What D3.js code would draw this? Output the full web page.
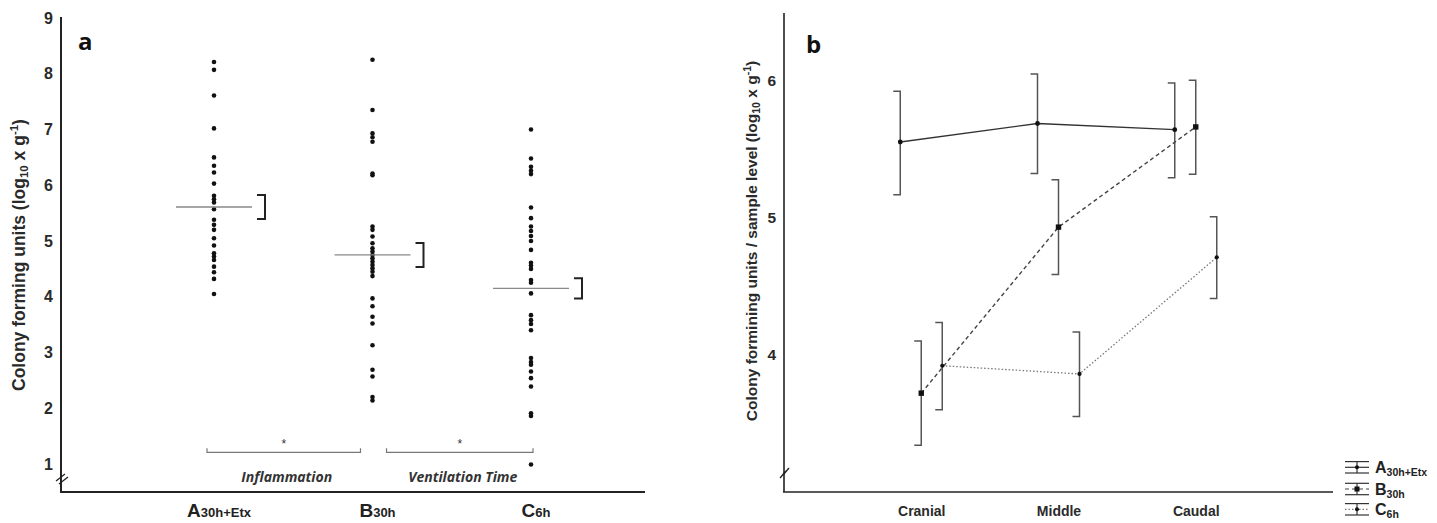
<!DOCTYPE html>
<html>
<head>
<meta charset="utf-8">
<script src="https://cdn.jsdelivr.net/npm/d3@7"></script>
<style>
  body { margin: 0; background: #fff; }
  svg { display: block; font-family: "Liberation Sans", Arial, sans-serif; }
</style>
</head>
<body>
<div class="svg"></div>
<script>
const w = 1437;
const h = 523;

// panel a: individual values per group
const groupsA = ["A", "B", "C"];
const groupMain = ["A", "B", "C"];
const groupSub = ["30h+Etx", "30h", "6h"];
const valuesA = [8.21, 8.07, 7.61, 7.02, 6.50, 6.35, 6.23, 6.03, 5.81, 5.75, 5.69, 5.57, 5.38, 5.29, 5.20, 5.05, 4.92, 4.78, 4.72, 4.66, 4.54, 4.44, 4.32, 4.05];
const valuesB = [8.25, 7.35, 6.93, 6.86, 6.78, 6.21, 6.18, 5.26, 5.20, 5.08, 4.96, 4.87, 4.81, 4.75, 4.69, 4.63, 4.57, 4.51, 4.45, 4.37, 3.97, 3.83, 3.64, 3.52, 3.13, 2.69, 2.57, 2.20, 2.14];
const valuesC = [7.00, 6.48, 6.33, 6.26, 6.20, 5.60, 5.41, 5.26, 5.18, 5.09, 5.00, 4.84, 4.61, 4.56, 4.50, 4.30, 4.25, 4.06, 3.67, 3.58, 3.51, 3.40, 2.90, 2.83, 2.78, 2.66, 2.54, 2.39, 1.91, 1.86, 0.99];
const meansA = [5.61, 4.75, 4.15];
const semA = [0.215, 0.215, 0.18];
const ticksA = [1, 2, 3, 4, 5, 6, 7, 8, 9];
const sigLevel = 1.21;
const sigLabels = ["Inflammation", "Ventilation Time"];

// panel b: mean and error per sample level
const levels = ["Cranial", "Middle", "Caudal"];
const seriesNames = ["A", "B", "C"];
const seriesSub = ["30h+Etx", "30h", "6h"];
const meanSA = [5.55, 5.685, 5.64];
const lowSA = [5.165, 5.32, 5.29];
const highSA = [5.92, 6.045, 5.98];
const meanSB = [3.72, 4.93, 5.66];
const lowSB = [3.34, 4.585, 5.315];
const highSB = [4.10, 5.275, 6.00];
const meanSC = [3.92, 3.86, 4.71];
const lowSC = [3.60, 3.55, 4.41];
const highSC = [4.235, 4.165, 5.005];
const ticksB = [4, 5, 6];

let svg = d3.select(".svg").append("svg").attr("width", w).attr("height", h);

// ---------- panel a ----------
const ax0 = 61, axBottom = 492;
const yA = d3.scaleLinear().domain([1, 9]).range([464, 18]);
const xA = d3.scalePoint().domain(groupsA).range([214, 531]);

let pa = svg.append("g");
pa.append("line").attr("x1", ax0).attr("x2", ax0).attr("y1", 17).attr("y2", axBottom)
  .attr("stroke", "#222").attr("stroke-width", 2);
pa.append("line").attr("x1", ax0 - 1).attr("x2", 645).attr("y1", axBottom).attr("y2", axBottom)
  .attr("stroke", "#222").attr("stroke-width", 2.2);

let yAxisA = d3.axisLeft(yA).tickValues(ticksA).tickSize(0).tickPadding(8);
let gya = pa.append("g").attr("transform", "translate(" + ax0 + ",0)").call(yAxisA);
gya.select(".domain").remove();
gya.selectAll("text").attr("font-size", 16).attr("font-weight", "bold").attr("fill", "#2a2a2a")
  .attr("font-family", "Liberation Sans, Arial, sans-serif");

// axis break
[[-4, 0], [-1, 3]].forEach(o => {
  pa.append("line").attr("x1", ax0 - 5 + o[1]).attr("y1", 481 + o[0] + 4).attr("x2", ax0 + 4 + o[1]).attr("y2", 474 + o[0] + 4)
    .attr("stroke", "#222").attr("stroke-width", 1.3);
});

pa.append("text").text("a").attr("x", 78).attr("y", 50).attr("font-size", 24).attr("font-weight", "bold")
  .attr("font-family", "Open Sans, sans-serif").attr("fill", "#111");

let ylA = pa.append("text").attr("transform", "translate(25,255) rotate(-90)").attr("text-anchor", "middle")
  .attr("font-size", 17.5).attr("font-weight", "bold").attr("fill", "#2a2a2a");
ylA.append("tspan").text("Colony forming units (log");
ylA.append("tspan").text("10").attr("font-size", 11.5).attr("dy", 3);
ylA.append("tspan").text(" x g").attr("dy", -3);
ylA.append("tspan").text("-1").attr("font-size", 11.5).attr("dy", -7);
ylA.append("tspan").text(")").attr("dy", 7);

const allA = [valuesA, valuesB, valuesC];
allA.forEach((vals, i) => {
  pa.selectAll(".dot" + i).data(vals).enter().append("circle")
    .attr("cx", xA(groupsA[i])).attr("cy", d => yA(d)).attr("r", 2.3).attr("fill", "#111");
});

groupsA.forEach((g, i) => {
  const cx = xA(g);
  pa.append("line").attr("x1", cx - 38).attr("x2", cx + 38).attr("y1", yA(meansA[i])).attr("y2", yA(meansA[i]))
    .attr("stroke", "#888").attr("stroke-width", 1.3);
  const bx = cx + 51;
  pa.append("path")
    .attr("d", "M" + (bx - 8) + "," + yA(meansA[i] + semA[i]) + "H" + bx + "V" + yA(meansA[i] - semA[i]) + "H" + (bx - 8))
    .attr("fill", "none").attr("stroke", "#222").attr("stroke-width", 2);
  let t = pa.append("text").attr("x", cx + 5).attr("y", 517).attr("text-anchor", "middle")
    .attr("font-weight", "bold").attr("fill", "#222");
  t.append("tspan").text(groupMain[i]).attr("font-size", 19);
  t.append("tspan").text(groupSub[i]).attr("font-size", 13);
});

// significance brackets
const sigSpans = [[xA("A") - 7, xA("B") - 12], [xA("B") + 14, xA("C") + 2]];
sigSpans.forEach((s, i) => {
  const sy = yA(sigLevel);
  pa.append("path").attr("d", "M" + s[0] + "," + (sy - 4) + "V" + sy + "H" + s[1] + "V" + (sy - 4))
    .attr("fill", "none").attr("stroke", "#777").attr("stroke-width", 1.2);
  pa.append("text").text("*").attr("x", (s[0] + s[1]) / 2).attr("y", sy - 4).attr("text-anchor", "middle")
    .attr("font-size", 12).attr("fill", "#333");
  pa.append("text").text(sigLabels[i]).attr("x", (s[0] + s[1]) / 2 + 3).attr("y", 482).attr("text-anchor", "middle")
    .attr("font-size", 14).attr("font-weight", "bold").attr("font-style", "italic")
    .attr("font-family", "Open Sans, sans-serif").attr("fill", "#333");
});

// ---------- panel b ----------
const bx0 = 784, bRight = 1333;
const yB = d3.scaleLinear().domain([3, 6.49]).range([492, 13]);
const xB = d3.scalePoint().domain(levels).range([bx0, bRight]).padding(1);
const offs = [-21, 0, 21];

let pb = svg.append("g");
pb.append("line").attr("x1", bx0).attr("x2", bx0).attr("y1", 13).attr("y2", 492)
  .attr("stroke", "#222").attr("stroke-width", 1.6);
pb.append("line").attr("x1", bx0 - 1).attr("x2", bRight).attr("y1", 492).attr("y2", 492)
  .attr("stroke", "#222").attr("stroke-width", 1.6);
[0, 3].forEach(o => {
  pb.append("line").attr("x1", bx0 - 4 + o).attr("y1", 478 - o + 0).attr("x2", bx0 + 2 + o).attr("y2", 471 - o + 0)
    .attr("stroke", "#222").attr("stroke-width", 1.3);
});

let yAxisB = d3.axisLeft(yB).tickValues(ticksB).tickSize(0).tickPadding(8).tickFormat(d3.format("d"));
let gyb = pb.append("g").attr("transform", "translate(" + bx0 + ",0)").call(yAxisB);
gyb.select(".domain").remove();
gyb.selectAll("text").attr("font-size", 15.5).attr("font-weight", "bold").attr("fill", "#2a2a2a")
  .attr("font-family", "Liberation Sans, Arial, sans-serif");

let xAxisB = d3.axisBottom(xB).tickSize(0).tickPadding(14);
let gxb = pb.append("g").attr("transform", "translate(0,492)").call(xAxisB);
gxb.select(".domain").remove();
gxb.selectAll("text").attr("font-size", 14).attr("font-weight", "bold").attr("fill", "#2a2a2a")
  .attr("font-family", "Liberation Sans, Arial, sans-serif");

pb.append("text").text("b").attr("x", 806).attr("y", 53).attr("font-size", 24).attr("font-weight", "bold")
  .attr("font-family", "Open Sans, sans-serif").attr("fill", "#111");

let ylB = pb.append("text").attr("transform", "translate(757,241) rotate(-90)").attr("text-anchor", "middle")
  .attr("font-size", 15.5).attr("font-weight", "bold").attr("fill", "#2a2a2a");
ylB.append("tspan").text("Colony formining units / sample level (log");
ylB.append("tspan").text("10").attr("font-size", 10.5).attr("dy", 3);
ylB.append("tspan").text(" x g").attr("dy", -3);
ylB.append("tspan").text("-1").attr("font-size", 10.5).attr("dy", -6);
ylB.append("tspan").text(")").attr("dy", 6);

const seriesB = [
  { mean: meanSA, lo: lowSA, hi: highSA, dash: null, color: "#333", width: 1.3 },
  { mean: meanSB, lo: lowSB, hi: highSB, dash: "4,3", color: "#444", width: 1.4 },
  { mean: meanSC, lo: lowSC, hi: highSC, dash: "1.5,2", color: "#777", width: 1.3 }
];

const lineGen = d3.line().x(d => d.x).y(d => yB(d.v));
seriesB.forEach((s, si) => {
  const pts = levels.map((l, i) => ({ x: xB(l) + offs[si], v: s.mean[i], lo: s.lo[i], hi: s.hi[i] }));
  pb.append("path").datum(pts).attr("d", lineGen).attr("fill", "none").attr("stroke", s.color)
    .attr("stroke-width", s.width).attr("stroke-dasharray", s.dash);
  pts.forEach(p => {
    pb.append("path").attr("d", "M" + (p.x - 7) + "," + yB(p.hi) + "H" + p.x + "V" + yB(p.lo) + "H" + (p.x - 7))
      .attr("fill", "none").attr("stroke", "#555").attr("stroke-width", 1.5);
    if (si === 1) {
      pb.append("rect").attr("x", p.x - 2.7).attr("y", yB(p.v) - 2.7).attr("width", 5.4).attr("height", 5.4).attr("fill", "#111");
    } else {
      pb.append("circle").attr("cx", p.x).attr("cy", yB(p.v)).attr("r", si === 0 ? 2.4 : 2.1).attr("fill", "#111");
    }
  });
});

// legend
const lgX = 1345, lgW = 24, lgY = [467.3, 489, 509.3];
seriesB.forEach((s, i) => {
  const cy = lgY[i];
  let g = pb.append("g");
  g.append("line").attr("x1", lgX).attr("x2", lgX + lgW).attr("y1", cy - 5.7).attr("y2", cy - 5.7).attr("stroke", "#333").attr("stroke-width", 1.2);
  g.append("line").attr("x1", lgX).attr("x2", lgX + lgW).attr("y1", cy + 5.7).attr("y2", cy + 5.7).attr("stroke", "#333").attr("stroke-width", 1.2);
  g.append("line").attr("x1", lgX).attr("x2", lgX + lgW).attr("y1", cy).attr("y2", cy).attr("stroke", s.color)
    .attr("stroke-width", 1.2).attr("stroke-dasharray", s.dash);
  g.append("line").attr("x1", lgX + lgW / 2).attr("x2", lgX + lgW / 2).attr("y1", cy - 5.7).attr("y2", cy + 5.7).attr("stroke", "#333").attr("stroke-width", 1.2);
  if (i === 1) g.append("rect").attr("x", lgX + lgW / 2 - 2.5).attr("y", cy - 2.5).attr("width", 5).attr("height", 5).attr("fill", "#111");
  else g.append("circle").attr("cx", lgX + lgW / 2).attr("cy", cy).attr("r", 2).attr("fill", "#111");
  let t = g.append("text").attr("x", 1375).attr("y", cy + 6).attr("font-weight", "bold").attr("fill", "#222");
  t.append("tspan").text(seriesNames[i]).attr("font-size", 16);
  t.append("tspan").text(seriesSub[i]).attr("font-size", 10.5).attr("dy", 3);
});
</script>
</body>
</html>
